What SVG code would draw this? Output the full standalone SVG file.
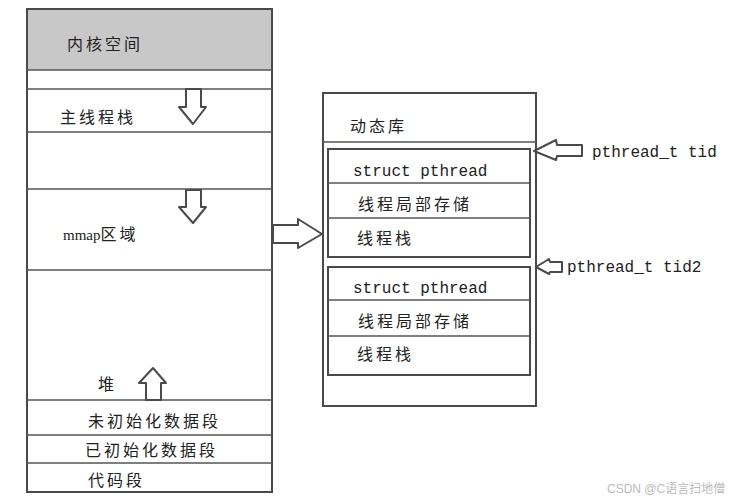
<svg xmlns="http://www.w3.org/2000/svg" width="745" height="500" viewBox="0 0 745 500">
<style>
.box{fill:#fff;stroke:#4a4a4a;stroke-width:2}
.ln{stroke:#555;stroke-width:1.6;fill:none}
.cj{font-family:"Noto Sans CJK SC","Noto Sans",sans-serif;font-size:16px;letter-spacing:3px;fill:#222}
.mono{font-family:"Liberation Mono","DejaVu Sans Mono",monospace;font-size:16px;fill:#222}
.arr{fill:#fff;stroke:#4a4a4a;stroke-width:2;stroke-linejoin:round}
</style>
<rect width="745" height="500" fill="#fff"/>
<g id="address-space">
  <rect class="box" x="27" y="9" width="245" height="483"/>
  <rect x="28" y="10" width="243" height="60" fill="#c8c8c8"/>
  <line class="ln" x1="27" y1="70" x2="272" y2="70"/>
  <line class="ln" x1="27" y1="89" x2="272" y2="89"/>
  <line class="ln" x1="27" y1="132" x2="272" y2="132"/>
  <line class="ln" x1="27" y1="189" x2="272" y2="189"/>
  <line class="ln" x1="27" y1="270" x2="272" y2="270"/>
  <line class="ln" x1="27" y1="400" x2="272" y2="400"/>
  <line class="ln" x1="27" y1="435" x2="272" y2="435"/>
  <line class="ln" x1="27" y1="463" x2="272" y2="463"/>
</g>
<g id="kernel"><text class="cj" x="67" y="50">内核空间</text></g>
<g id="main-stack"><text class="cj" x="60" y="123">主线程栈</text></g>
<g id="mmap"><text x="63" y="240" font-family="Liberation Serif,serif" font-size="15" fill="#222">mmap<tspan class="cj" font-size="16">区域</tspan></text></g>
<g id="heap"><text class="cj" x="98" y="390">堆</text></g>
<g id="bss"><text class="cj" x="88" y="427">未初始化数据段</text></g>
<g id="data"><text class="cj" x="85" y="456">已初始化数据段</text></g>
<g id="text-seg"><text class="cj" x="88" y="486">代码段</text></g>
<g id="dynlib">
  <rect class="box" x="323" y="93" width="213" height="313"/>
  <line class="ln" x1="323" y1="142" x2="536" y2="142"/>
  <text class="cj" x="350" y="132">动态库</text>
</g>
<g id="thread1">
  <rect class="box" x="328" y="149" width="202" height="108"/>
  <line class="ln" x1="328" y1="183" x2="530" y2="183"/>
  <line class="ln" x1="328" y1="218" x2="530" y2="218"/>
  <text class="mono" x="353" y="176">struct pthread</text>
  <text class="cj" x="358" y="210">线程局部存储</text>
  <text class="cj" x="357" y="244">线程栈</text>
</g>
<g id="thread2">
  <rect class="box" x="328" y="267" width="202" height="108"/>
  <line class="ln" x1="328" y1="300" x2="530" y2="300"/>
  <line class="ln" x1="328" y1="336" x2="530" y2="336"/>
  <text class="mono" x="353" y="293">struct pthread</text>
  <text class="cj" x="358" y="327">线程局部存储</text>
  <text class="cj" x="357" y="360">线程栈</text>
</g>
<g id="tid"><text class="mono" x="592" y="157">pthread_t tid</text></g>
<g id="tid2"><text class="mono" x="567" y="272">pthread_t tid2</text></g>
<g id="connectors">
  <path class="arr" d="M186,89 L201,89 L201,107 L206,107 L193,124 L179,107 L186,107 Z"/>
  <path class="arr" d="M186,190 L201,190 L201,207 L206,207 L193,223 L179,207 L186,207 Z"/>
  <path class="arr" d="M146,400 L161,400 L161,383 L166,383 L153,368 L139,383 L146,383 Z"/>
  <path class="arr" d="M273,225 L298,225 L298,219 L322,234 L298,248 L298,243 L273,243 Z"/>
  <path class="arr" d="M582,145 L557,145 L556,140 L534,151 L556,160 L557,156 L582,156 Z"/>
  <path class="arr" d="M562,262 L550,262 L549,259 L536,267 L549,274 L550,272 L562,272 Z"/>
</g>
<text x="607" y="493" font-family="Liberation Sans,'Noto Sans CJK SC',sans-serif" font-size="12" fill="#bbb">CSDN @C语言扫地僧</text>
</svg>
